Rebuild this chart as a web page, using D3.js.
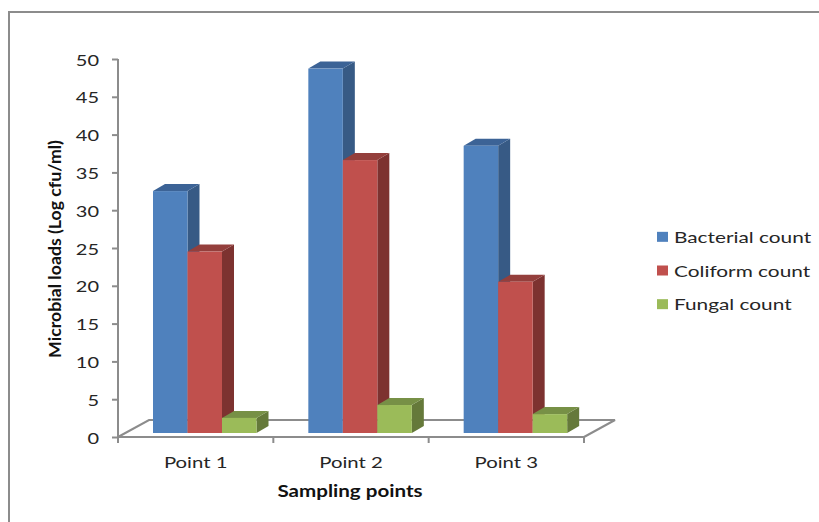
<!DOCTYPE html>
<html>
<head>
<meta charset="utf-8">
<script src="https://cdn.jsdelivr.net/npm/d3@7"></script>
<style>
  html, body { margin: 0; padding: 0; background: #fff; }
  svg { display: block; }
</style>
</head>
<body>
<div id="chart"></div>
<script>
const categories = ["Point 1", "Point 2", "Point 3"];
const seriesNames = ["Bacterial count", "Coliform count", "Fungal count"];
const bacterial = [32, 48.2, 38];
const coliform = [24, 36.1, 20];
const fungal = [2, 3.7, 2.5];
const yTicks = [0, 5, 10, 15, 20, 25, 30, 35, 40, 45, 50];

const frontColors = ["#4f81bd", "#c0504d", "#9bbb59"];
const topColors = ["#3c6396", "#943f3c", "#779046"];
const sideColors = ["#375a85", "#7d3230", "#65793a"];

const W = 819, H = 522;
const FONT = "Lato, 'Open Sans', sans-serif";
const TEXT = "#262626", AXIS = "#8c8c8c";

const svg = d3.select("#chart").append("svg")
  .attr("width", W).attr("height", H)
  .attr("viewBox", `0 0 ${W} ${H}`)
  .style("font-family", FONT);

// Outer frame, open on the right and bottom edges of the crop
svg.append("path")
  .attr("d", `M9,${H} V12 H${W}`)
  .attr("fill", "none").attr("stroke", AXIS).attr("stroke-width", 2);

const x = d3.scaleBand().domain(categories).range([118, 584]);
const y = d3.scaleLinear().domain([0, 50]).range([437, 59]);

// Bars sit a little way into the floor, which gives the fake 3D offset
const inner = d3.scaleBand().domain(seriesNames).range([35, 138.5]);
const floorDx = 31, floorDy = -17;
const barLift = 4, barDx = 12, barDy = -7;

// Floor of the 3D plot
svg.append("path")
  .attr("d", `M${x.range()[0]},${y(0)} l${floorDx},${floorDy} H${x.range()[1] + floorDx} l${-floorDx},${-floorDy}`)
  .attr("fill", "none").attr("stroke", AXIS).attr("stroke-width", 2);

// X axis: ticks sit on the band edges, labels in the band middle
const xEdges = categories.map(c => x(c)).concat(x.range()[1]);
const xAxis = svg.append("g").attr("transform", `translate(0,${y(0)})`);
xAxis.append("line")
  .attr("x1", x.range()[0]).attr("x2", x.range()[1])
  .attr("stroke", AXIS).attr("stroke-width", 2);
xAxis.selectAll(".edge").data(xEdges).join("line")
  .attr("class", "edge")
  .attr("x1", d => d).attr("x2", d => d).attr("y1", 0).attr("y2", 6)
  .attr("stroke", AXIS).attr("stroke-width", 2);

const xLabels = xAxis.selectAll(".cat").data(categories).join("text")
  .attr("class", "cat")
  .attr("x", d => x(d) + x.bandwidth() / 2)
  .attr("y", 31)
  .attr("text-anchor", "middle")
  .attr("font-size", 16).attr("fill", TEXT)
  .text(d => d);

// Y axis
const yAxis = svg.append("g")
  .attr("transform", `translate(${x.range()[0]},0)`)
  .call(d3.axisLeft(y).tickValues(yTicks).tickSize(6).tickPadding(13).tickSizeOuter(0));
yAxis.select(".domain").attr("stroke", AXIS).attr("stroke-width", 2)
  .attr("d", `M0,${y(50)} V${y(0) + 6}`);
yAxis.selectAll(".tick line").attr("stroke", AXIS).attr("stroke-width", 2);
const yLabels = yAxis.selectAll("text")
  .attr("y", 1)
  .attr("fill", TEXT).attr("font-size", 16).attr("font-family", FONT);

// Bars, one series at a time so later fronts cover earlier sides
const rows = [bacterial, coliform, fungal];
seriesNames.forEach((name, s) => {
  const bw = inner.bandwidth();
  const g = svg.append("g");
  const bars = categories.map((c, i) => ({
    x0: x(c) + inner(name),
    yTop: y(rows[s][i]) - barLift,
    yBase: y(0) - barLift
  }));

  g.selectAll(".side").data(bars).join("path")
    .attr("fill", sideColors[s])
    .attr("d", d => `M${d.x0 + bw},${d.yTop} l${barDx},${barDy} V${d.yBase + barDy} l${-barDx},${-barDy} Z`);
  g.selectAll(".top").data(bars).join("path")
    .attr("fill", topColors[s])
    .attr("d", d => `M${d.x0},${d.yTop} l${barDx},${barDy} h${bw} l${-barDx},${-barDy} Z`);
  g.selectAll(".front").data(bars).join("rect")
    .attr("fill", frontColors[s])
    .attr("x", d => d.x0).attr("y", d => d.yTop)
    .attr("width", bw).attr("height", d => d.yBase - d.yTop);
});

// Axis titles
const xTitle = svg.append("text")
  .attr("x", 350).attr("y", 497)
  .attr("text-anchor", "middle")
  .attr("font-size", 17).attr("font-weight", 700).attr("fill", "#111")
  .text("Sampling points");

const yTitle = svg.append("text")
  .attr("transform", "translate(61,249) rotate(-90)")
  .attr("text-anchor", "middle")
  .attr("font-size", 17.7).attr("font-weight", 700).attr("fill", "#111")
  .text("Microbial loads (Log cfu/ml)");

// Legend
const legend = d3.scaleBand().domain(seriesNames).range([220, 321]);
const legendRows = svg.selectAll(".legend").data(seriesNames).join("g")
  .attr("class", "legend")
  .attr("transform", d => `translate(657,${legend(d) + legend.bandwidth() / 2})`);
legendRows.append("rect")
  .attr("x", 0).attr("y", -5).attr("width", 11).attr("height", 10)
  .attr("fill", (d, i) => frontColors[i]);
const legendLabels = legendRows.append("text")
  .attr("x", 17).attr("y", 6)
  .attr("font-size", 16).attr("fill", TEXT)
  .text(d => d);

// The source picture is a stretched screenshot, so text is wider than its height
function stretch(sel, factor) {
  sel.each(function () {
    this.setAttribute("textLength", this.getComputedTextLength() * factor);
    this.setAttribute("lengthAdjust", "spacingAndGlyphs");
  });
}
stretch(xLabels, 1.27);
stretch(yLabels, 1.25);
stretch(legendLabels, 1.3);
stretch(xTitle, 1.21);
</script>
</body>
</html>
